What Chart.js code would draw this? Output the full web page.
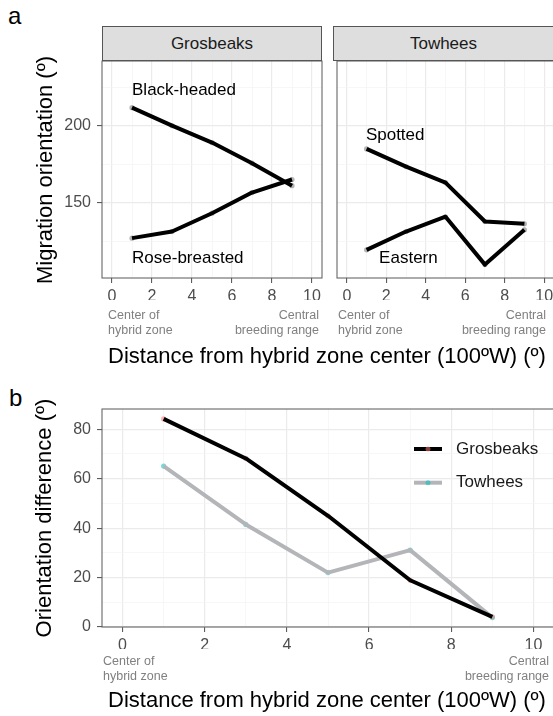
<!DOCTYPE html>
<html>
<head>
<meta charset="utf-8">
<script src="https://cdn.jsdelivr.net/npm/chart.js@4/dist/chart.umd.min.js"></script>
<style>
  body { margin:0; background:#fff; overflow:hidden; font-family:"Liberation Sans", Arial, sans-serif; }
  #page { position:relative; width:553px; height:716px; overflow:hidden; }
  canvas { position:absolute; }
  .txt { position:absolute; white-space:nowrap; }
  .panel-lab { font-size:24px; line-height:24px; color:#000; }
  .strip { position:absolute; top:26px; height:35px; box-sizing:border-box; background:#dedede;
           border:1px solid #555; font-size:17px; line-height:33px; text-align:center; color:#1a1a1a; }
  .axtitle { font-size:22px; line-height:26px; color:#000; transform:translateX(-50%); }
  .ytitle { font-size:22px; line-height:26px; color:#000; transform:translate(-50%,-50%) rotate(-90deg); }
  .note { font-size:12.5px; line-height:15.3px; color:#808080; }
</style>
</head>
<body>
<div id="page">
  <div class="txt panel-lab" style="left:8px; top:4px;">a</div>
  <div class="txt panel-lab" style="left:9px; top:386px;">b</div>

  <div class="strip" style="left:102px; width:220px;">Grosbeaks</div>
  <div class="strip" style="left:333px; width:240px; padding-right:19px;">Towhees</div>

  <canvas id="gros" width="330" height="310" style="left:0; top:0;"></canvas>
  <canvas id="tow" width="240" height="310" style="left:333px; top:0;"></canvas>
  <canvas id="diff" width="580" height="280" style="left:0; top:380px;"></canvas>

  <div class="txt note" style="left:108px; top:308px;">Center of<br>hybrid zone</div>
  <div class="txt note" style="right:234px; top:308px; text-align:right;">Central<br>breeding range</div>
  <div class="txt note" style="left:338px; top:308px;">Center of<br>hybrid zone</div>
  <div class="txt note" style="right:7px; top:308px; text-align:right;">Central<br>breeding range</div>
  <div class="txt note" style="left:103px; top:654px;">Center of<br>hybrid zone</div>
  <div class="txt note" style="right:4px; top:654px; text-align:right;">Central<br>breeding range</div>

  <div class="txt axtitle" style="left:327px; top:343px;">Distance from hybrid zone center (100ºW) (º)</div>
  <div class="txt axtitle" style="left:327px; top:687px;">Distance from hybrid zone center (100ºW) (º)</div>
  <div class="txt ytitle" style="left:45px; top:170px;">Migration orientation (º)</div>
  <div class="txt ytitle" style="left:44px; top:518px;">Orientation difference (º)</div>
</div>

<script>
// Data
const distance = [1, 3, 5, 7, 9];
const blackHeaded = [211.7, 200, 189, 175.6, 161];
const roseBreasted = [126.9, 131.2, 143.1, 156.5, 165];
const spotted = [184.9, 173.4, 163, 137.7, 136.2];
const eastern = [119.3, 131.2, 140.8, 109.7, 132.3];
const grosbeakDiff = [84.2, 68.2, 45, 18.9, 4.1];
const towheeDiff = [65.1, 41.5, 22.0, 31.1, 3.8];
const distanceTicks = [0, 1, 2, 3, 4, 5, 6, 7, 8, 9, 10];
const orientationTicks = [125, 150, 175, 200, 225];
const diffTicks = [0, 10, 20, 30, 40, 50, 60, 70, 80];

Chart.defaults.font.family = '"Liberation Sans", Arial, sans-serif';
Chart.defaults.animation = false;

const MAJOR = '#ebebeb', MINOR = '#f3f3f3';

const pts = ys => distance.map((x, i) => ({x: x, y: ys[i]}));

// panel frame + text labels at data positions
const framePlugin = {
  id: 'frame',
  afterDraw(chart, args, opts){
    const {ctx, chartArea: a, scales} = chart;
    ctx.save();
    ctx.strokeStyle = '#595959';
    ctx.lineWidth = 1;
    ctx.strokeRect(a.left, a.top, a.right - a.left, a.bottom - a.top);
    (opts.labels || []).forEach(l => {
      ctx.font = '17px "Liberation Sans", Arial, sans-serif';
      ctx.fillStyle = '#000';
      ctx.textAlign = 'center';
      ctx.textBaseline = 'middle';
      ctx.fillText(l.text, scales.x.getPixelForValue(l.x), scales.y.getPixelForValue(l.y));
    });
    (opts.legend || []).forEach(l => {
      ctx.strokeStyle = l.color;
      ctx.lineWidth = 4;
      ctx.beginPath();
      ctx.moveTo(414, l.y);
      ctx.lineTo(442, l.y);
      ctx.stroke();
      ctx.fillStyle = l.dot;
      ctx.beginPath();
      ctx.arc(428, l.y, 2.5, 0, Math.PI * 2);
      ctx.fill();
      ctx.font = '17px "Liberation Sans", Arial, sans-serif';
      ctx.fillStyle = '#1a1a1a';
      ctx.textAlign = 'left';
      ctx.textBaseline = 'middle';
      ctx.fillText(l.text, 456, l.y);
    });
    ctx.restore();
  }
};

function xScale(){
  return {
    type: 'linear', min: -0.5, max: 10.5,
    afterBuildTicks: s => { s.ticks = distanceTicks.map(v => ({value: v})); },
    afterFit: s => { s.height = 22; },
    ticks: { autoSkip: false, maxRotation: 0, padding: 4, color: '#4d4d4d', font: {size: 16},
             callback: v => v % 2 === 0 ? v : '' },
    grid: { color: c => c.tick && c.tick.value % 2 ? MINOR : MAJOR,
            lineWidth: c => c.tick && c.tick.value % 2 ? 0.7 : 1.2,
            tickColor: c => c.tick && c.tick.value % 2 ? 'rgba(0,0,0,0)' : '#4d4d4d',
            tickLength: 5, tickWidth: 1 },
    border: { display: false }
  };
}

function yScale(min, max, ticks, major, showLabels, width){
  return {
    type: 'linear', min: min, max: max,
    afterBuildTicks: s => { s.ticks = ticks.map(v => ({value: v})); },
    afterFit: s => { s.width = width; },
    ticks: { display: showLabels, padding: 6, color: '#4d4d4d', font: {size: 16},
             callback: v => v % major === 0 ? v : '' },
    grid: { color: c => c.tick && c.tick.value % major ? MINOR : MAJOR,
            lineWidth: c => c.tick && c.tick.value % major ? 0.7 : 1.2,
            drawTicks: showLabels,
            tickColor: c => c.tick && c.tick.value % major ? 'rgba(0,0,0,0)' : '#4d4d4d',
            tickLength: 5, tickWidth: 1 },
    border: { display: false }
  };
}

function lineSet(ys, color, width){
  return { type: 'line', data: pts(ys), borderColor: color, borderWidth: width,
           borderJoinStyle: 'round', pointRadius: 0, order: 1 };
}
function dotSet(ys, color){
  return { type: 'scatter', data: pts(ys), backgroundColor: color, borderWidth: 0,
           pointRadius: 2.6, order: 2 };
}

const GREY_DOT = 'rgba(150,150,150,0.7)';

new Chart(document.getElementById('gros'), {
  type: 'line',
  data: { datasets: [
    dotSet(blackHeaded, GREY_DOT), dotSet(roseBreasted, GREY_DOT),
    lineSet(blackHeaded, '#000', 4), lineSet(roseBreasted, '#000', 4)
  ]},
  options: {
    responsive: false,
    layout: { padding: {left: 0, top: 61, right: 8, bottom: 10} },
    scales: { x: xScale(), y: yScale(101, 242, orientationTicks, 50, true, 102) },
    plugins: { legend: {display: false}, tooltip: {enabled: false},
      frame: { labels: [
        {text: 'Black-headed', x: 3.6, y: 223.2},
        {text: 'Rose-breasted', x: 3.79, y: 113.9}
      ]}}
  },
  plugins: [framePlugin]
});

new Chart(document.getElementById('tow'), {
  type: 'line',
  data: { datasets: [
    dotSet(spotted, GREY_DOT), dotSet(eastern, GREY_DOT),
    lineSet(spotted, '#000', 4), lineSet(eastern, '#000', 4)
  ]},
  options: {
    responsive: false,
    layout: { padding: {left: 0, top: 61, right: 19, bottom: 10} },
    scales: { x: xScale(), y: yScale(101, 242, orientationTicks, 50, false, 0) },
    plugins: { legend: {display: false}, tooltip: {enabled: false},
      frame: { labels: [
        {text: 'Spotted', x: 2.45, y: 194},
        {text: 'Eastern', x: 3.12, y: 113.9}
      ]}}
  },
  plugins: [framePlugin]
});

new Chart(document.getElementById('diff'), {
  type: 'line',
  data: { datasets: [
    dotSet(grosbeakDiff, 'rgba(248,118,109,0.55)'), dotSet(towheeDiff, 'rgba(0,191,196,0.55)'),
    lineSet(grosbeakDiff, '#000', 4), lineSet(towheeDiff, '#b3b5b8', 4)
  ]},
  options: {
    responsive: false,
    layout: { padding: {left: 0, top: 29, right: 26, bottom: 11} },
    scales: { x: xScale(), y: yScale(0, 88.2, diffTicks, 20, true, 102) },
    plugins: { legend: {display: false}, tooltip: {enabled: false},
      frame: { legend: [
        {text: 'Grosbeaks', color: '#000', dot: 'rgba(248,118,109,0.55)', y: 69},
        {text: 'Towhees', color: '#b3b5b8', dot: 'rgba(0,191,196,0.55)', y: 102.7}
      ]}}
  },
  plugins: [framePlugin]
});
</script>
</body>
</html>
